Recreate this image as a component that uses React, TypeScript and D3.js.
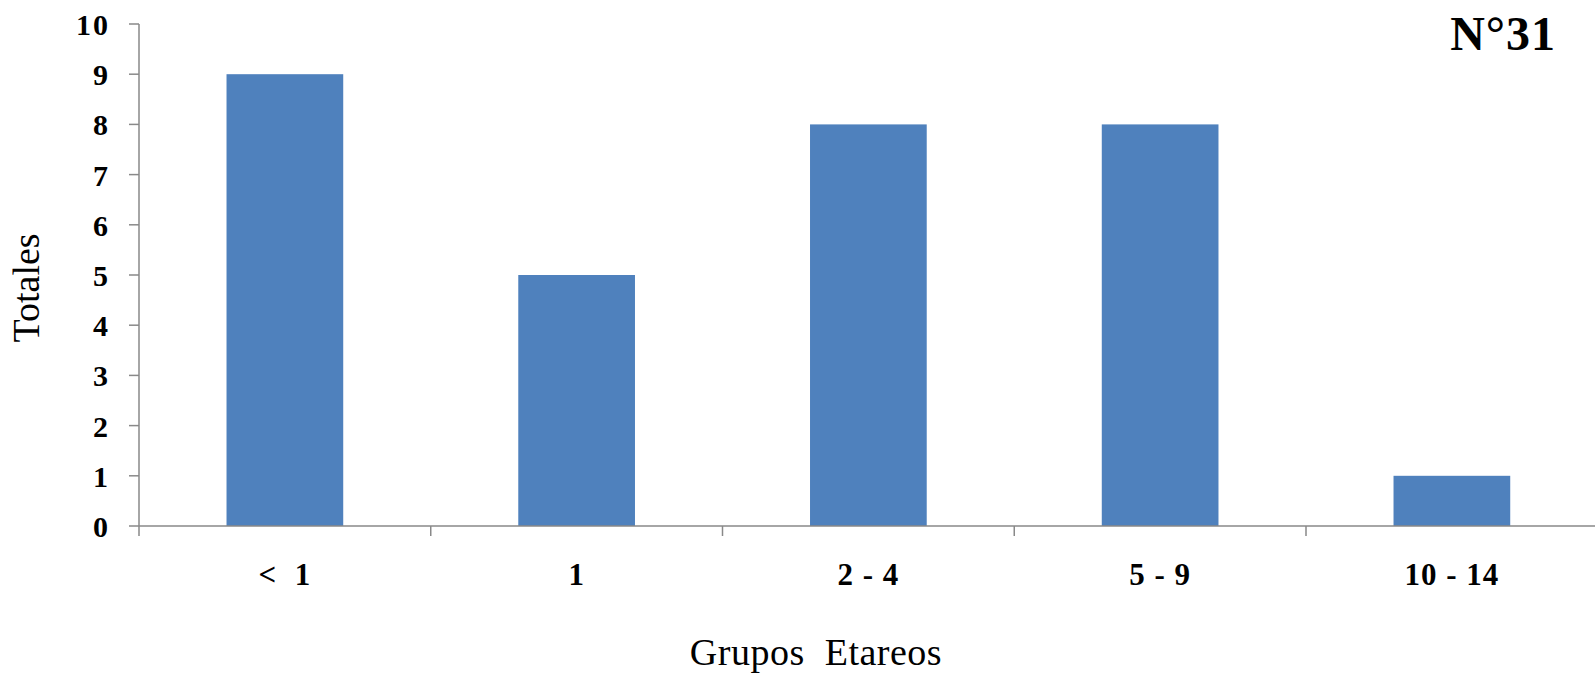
import React from "react";
import * as d3 from "d3";

const categories: string[] = ["<  1", "1", "2 - 4", "5 - 9", "10 - 14"];
const totals: number[] = [9, 5, 8, 8, 1];
const yTicks: number[] = [0, 1, 2, 3, 4, 5, 6, 7, 8, 9, 10];
const title = "N°31";
const yTitle = "Totales";
const xTitle = "Grupos  Etareos";

const W = 1595;
const H = 673;
const axisColor = "#898989";
const barColor = "#4F81BD";
const serif = "'Liberation Serif', 'Times New Roman', serif";

export default function App() {
  const left = 139;
  const step = 291.75;
  const x = d3
    .scaleBand<string>()
    .domain(categories)
    .range([left, left + step * categories.length])
    .paddingInner(0.6)
    .paddingOuter(0.3);
  const y = d3.scaleLinear().domain([0, 10]).range([526, 24]);
  const boundaries = d3.range(categories.length + 1).map((i) => left + i * x.step());

  return (
    <svg
      width={W}
      height={H}
      style={{ position: "absolute", left: 0, top: 0, background: "#fff" }}
    >
      {categories.map((c, i) => (
        <rect
          key={c}
          x={x(c)}
          y={y(totals[i])}
          width={x.bandwidth()}
          height={y(0) - y(totals[i])}
          fill={barColor}
        />
      ))}
      {/* y axis */}
      <line x1={left} x2={left} y1={y(10)} y2={y(0)} stroke={axisColor} strokeWidth={1.5} />
      {yTicks.map((t) => (
        <g key={t}>
          <line x1={left - 10} x2={left} y1={y(t)} y2={y(t)} stroke={axisColor} strokeWidth={1.5} />
          <text
            x={110}
            y={y(t) + 11}
            textAnchor="end"
            fontFamily={serif}
            fontWeight="bold"
            fontSize={30}
            letterSpacing={2}
            fill="#000"
          >
            {t}
          </text>
        </g>
      ))}
      {/* x axis */}
      <line x1={left} x2={left + step * categories.length} y1={y(0)} y2={y(0)} stroke={axisColor} strokeWidth={1.5} />
      {boundaries.map((b, i) => (
        <line key={i} x1={b} x2={b} y1={y(0)} y2={y(0) + 10} stroke={axisColor} strokeWidth={1.5} />
      ))}
      {categories.map((c) => (
        <text
          key={c}
          x={(x(c) as number) + x.bandwidth() / 2}
          y={585}
          textAnchor="middle"
          fontFamily={serif}
          fontWeight="bold"
          fontSize={31}
          letterSpacing={1}
          fill="#000"
          style={{ whiteSpace: "pre" }}
        >
          {c}
        </text>
      ))}
      <text
        transform={`translate(39, 288) rotate(-90)`}
        textAnchor="middle"
        fontFamily={serif}
        fontSize={38}
        fill="#000"
      >
        {yTitle}
      </text>
      <text
        x={816}
        y={665}
        textAnchor="middle"
        fontFamily={serif}
        fontSize={38}
        letterSpacing={0.5}
        fill="#000"
        style={{ whiteSpace: "pre" }}
      >
        {xTitle}
      </text>
      <text
        x={1556}
        y={50}
        textAnchor="end"
        fontFamily={serif}
        fontWeight="bold"
        fontSize={48}
        letterSpacing={1}
        fill="#000"
      >
        {title}
      </text>
    </svg>
  );
}
